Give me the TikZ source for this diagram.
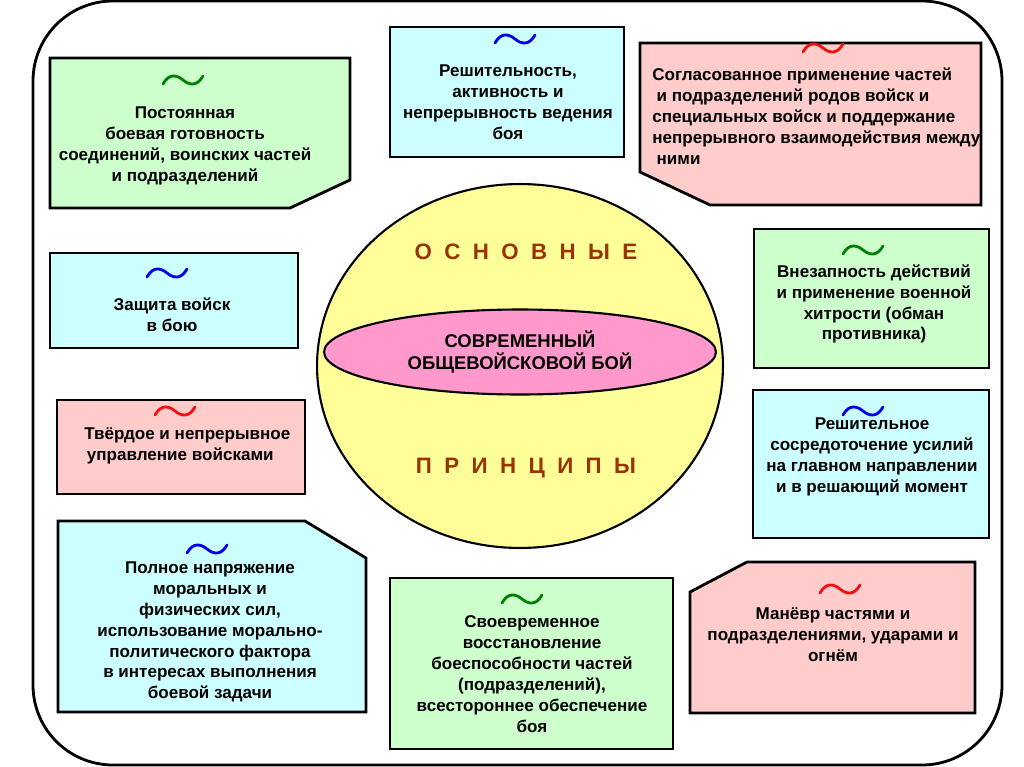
\documentclass[tikz,border=0pt]{standalone}
\usepackage{fontspec}
\setmainfont{Liberation Sans}
\usetikzlibrary{shapes.geometric}
\definecolor{BoxGreen}{HTML}{CCFFCC}
\definecolor{BoxCyan}{HTML}{CCFFFF}
\definecolor{BoxPink}{HTML}{FFCCCC}
\definecolor{SphereYellow}{HTML}{FFFF99}
\definecolor{CoreMagenta}{HTML}{FF99CC}
\definecolor{WordBrown}{HTML}{993300}
\definecolor{MarkGreen}{HTML}{008000}
\definecolor{MarkBlue}{HTML}{0000E6}
\definecolor{MarkRed}{HTML}{F01010}

\tikzset{
  panel/.style={draw=black,line width=1.6pt,line join=miter},
  boxtext/.style={font=\bfseries\fontsize{9.7}{11.9}\selectfont,align=center,inner sep=0pt},
  bigword/.style={font=\bfseries\fontsize{12.7}{15}\selectfont,text=WordBrown},
  wavemark/.pic={\draw[line width=1.6pt] (-20,4) .. controls (-14,-7) and (-6,-5) .. (0,0) .. controls (6,5) and (14,7) .. (20,-4);}
}

\begin{document}
\begin{tikzpicture}[x=0.02cm,y=-0.02cm,line cap=round,line join=round]
  \useasboundingbox (0,0) rectangle (1024,767);
  \draw[line width=1.6pt,rounded corners=1.6cm] (33,1) rectangle (1002,765);
  % sphere in the middle
  \node[ellipse,draw,fill=SphereYellow,line width=1.2pt,minimum width=8.12cm,minimum height=7.28cm] (sphere) at (520,366) {};
  \node[ellipse,draw,fill=CoreMagenta,line width=1.2pt,minimum width=7.84cm,minimum height=1.7cm,boxtext,font=\bfseries\fontsize{10.5}{12.2}\selectfont] (core) at (520,352) {СОВРЕМЕННЫЙ\\ОБЩЕВОЙСКОВОЙ БОЙ};
  \node[bigword] (upper) at (526,252) {О~~С~~Н~~О~~В~~Н~~Ы~~Е};
  \node[bigword] (lower) at (526,468) {П~~Р~~И~~Н~~Ц~~И~~П~~Ы};
  % boxes
  \filldraw[panel,fill=BoxGreen] (50,58) -- (350,58) -- (350,180) -- (290,208) -- (50,208) -- cycle;
  \filldraw[panel,fill=BoxCyan] (390,27) rectangle (624,157);
  \filldraw[panel,fill=BoxPink] (640,43) -- (981,43) -- (981,205) -- (710,205) -- (640,172) -- cycle;
  \filldraw[panel,fill=BoxCyan] (50,253) rectangle (298,348);
  \filldraw[panel,fill=BoxGreen] (754,229) rectangle (989,368);
  \filldraw[panel,fill=BoxPink] (57,400) rectangle (305,494);
  \filldraw[panel,fill=BoxCyan] (753,390) rectangle (989,538);
  \filldraw[panel,fill=BoxCyan] (58,521) -- (305,521) -- (366,558) -- (366,712) -- (58,712) -- cycle;
  \filldraw[panel,fill=BoxGreen] (390,578) rectangle (673,749);
  \filldraw[panel,fill=BoxPink] (747,562) -- (975,562) -- (975,713) -- (690,713) -- (690,592) -- cycle;
  % marks
  \pic[MarkGreen] at (183,80) {wavemark};
  \pic[MarkBlue] at (515,39) {wavemark};
  \pic[MarkRed] at (823,48) {wavemark};
  \pic[MarkBlue] at (167,273) {wavemark};
  \pic[MarkGreen] at (863,250) {wavemark};
  \pic[MarkRed] at (175,411) {wavemark};
  \pic[MarkBlue] at (863,411) {wavemark};
  \pic[MarkBlue] at (207,549) {wavemark};
  \pic[MarkGreen] at (522,599) {wavemark};
  \pic[MarkRed] at (840,589) {wavemark};
  % texts
  \node[boxtext] (readiness) at (185,146) {Постоянная\\боевая готовность\\соединений, воинских частей\\и подразделений};
  \node[boxtext] (resolve) at (508,102) {Решительность,\\активность и\\непрерывность ведения\\боя};
  \node[boxtext,align=left,anchor=west] (cooperation) at (652,116) {Согласованное применение частей\\\hspace*{0.25em}и подразделений родов войск и\\специальных войск и поддержание\\непрерывного взаимодействия между\\\hspace*{0.25em}ними};
  \node[boxtext] (protection) at (172,315) {Защита войск\\в бою};
  \node[boxtext] (surprise) at (874,304) {Внезапность действий\\и применение военной\\хитрости (обман\\противника)};
  \node[boxtext,align=left,anchor=west] (control) at (84,446) {Твёрдое и непрерывное\\\hspace*{0.15em}управление войсками};
  \node[boxtext] (effort) at (872,457) {Решительное\\сосредоточение усилий\\на главном направлении\\и в решающий момент};
  \node[boxtext] (morale) at (210,632) {Полное напряжение\\моральных и\\физических сил,\\использование морально-\\политического фактора\\в интересах выполнения\\боевой задачи};
  \node[boxtext] (recovery) at (532,674) {Своевременное\\восстановление\\боеспособности частей\\(подразделений),\\всестороннее обеспечение\\боя};
  \node[boxtext] (manoeuvre) at (833,635) {Манёвр частями и\\подразделениями, ударами и\\огнём};
\end{tikzpicture}
\end{document}
